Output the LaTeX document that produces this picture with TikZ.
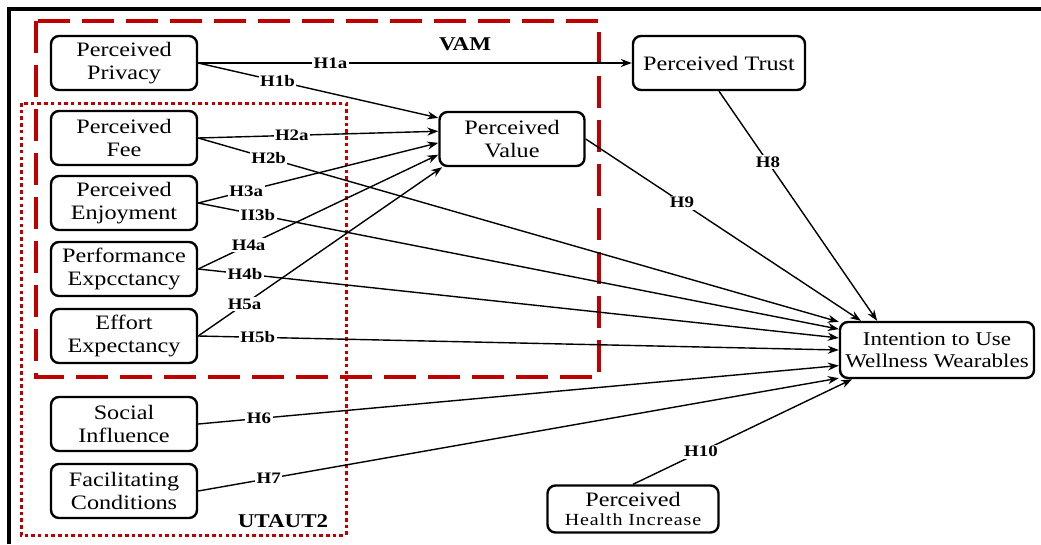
\documentclass[tikz,border=0pt]{standalone}
\usepackage{fontspec}
\setmainfont{Liberation Serif}[FakeStretch=1.18]
\usetikzlibrary{arrows.meta}

\definecolor{vamred}{RGB}{192,0,0}

\tikzset{
  construct/.style={draw, line width=2.4pt, rounded corners=8pt, align=center,
    minimum width=146pt, minimum height=54pt, inner sep=2pt,
    font=\fontsize{20.5}{23.5}\selectfont},
  link/.style={line width=1.4pt, -{Stealth[length=11pt,width=8pt]}},
  hyp/.style={fill=white, inner sep=1.5pt, font=\bfseries\fontsize{16}{18}\selectfont},
  modelname/.style={font=\bfseries\fontsize{19.5}{21}\selectfont},
}

\begin{document}
\begin{tikzpicture}[x=1pt, y=-1pt]
\useasboundingbox (0,0) rectangle (1041,544);
% frame
\draw[line width=4pt] (9,544) -- (9,9) -- (1041,9);
% model boundaries
\draw[vamred, line width=3.5pt, dash pattern=on 32pt off 12pt] (36,21) rectangle (599,377);
\draw[vamred, line width=3pt, dash pattern=on 3.5pt off 3.2pt] (21,103) rectangle (346,535);
\node[modelname] (vamlbl) at (465,44) {VAM};
\node[modelname] (utautlbl) at (283,521) {UTAUT2};

% constructs
\node[construct] (privacy) at (124,63) {Perceived\\Privacy};
\node[construct] (fee) at (124,138) {Perceived\\Fee};
\node[construct] (enjoy) at (124,203) {Perceived\\Enjoyment};
\node[construct] (perform) at (124,269) {Performance\\Expcctancy};
\node[construct] (effort) at (124,336) {Effort\\Expectancy};
\node[construct] (social) at (124,424) {Social\\Influence};
\node[construct] (facil) at (124,491) {Facilitating\\Conditions};
\node[construct, minimum width=145pt] (value) at (512,139) {Perceived\\Value};
\node[construct, minimum width=172pt] (trust) at (719,63) {Perceived Trust};
\node[construct, minimum width=194pt, minimum height=56pt,
  font=\fontsize{19.5}{22.5}\selectfont] (intent) at (937,350) {Intention to Use\\Wellness Wearables};
\node[construct, minimum width=171pt, minimum height=47pt, inner sep=1pt] (health) at (633,509)
  {Perceived\\[-4pt]{\fontsize{17}{18}\selectfont\addfontfeature{LetterSpace=5}Health Increase}};

% hypotheses
\draw[link] (privacy.east) -- node[hyp, pos=0.305] {H1a} (trust.west);
\draw[link] (privacy.east) -- node[hyp, pos=0.33] {H1b} (value.164);
\draw[link] (fee.east) -- node[hyp, pos=0.39] {H2a} (value.174);
\draw[link] (fee.east) -- node[hyp, pos=0.11] {H2b} (intent.164);
\draw[link] (enjoy.east) -- node[hyp, pos=0.2] {H3a} (value.183);
\draw[link] (enjoy.east) -- node[hyp, pos=0.093] {II3b} (intent.168);
\draw[link] (perform.east) -- node[hyp, pos=0.21] {H4a} (value.192);
\draw[link] (perform.east) -- node[hyp, pos=0.073] {H4b} (intent.173);
\draw[link] (effort.east) -- node[hyp, pos=0.19] {H5a} (value.202);
\draw[link] (effort.east) -- node[hyp, pos=0.093] {H5b} (intent.180);
\draw[link] (social.east) -- node[hyp, pos=0.095] {H6} (intent.189);
\draw[link] (facil.east) -- node[hyp, pos=0.11] {H7} (intent.196);
\draw[link] (trust.south) -- node[hyp, pos=0.31] {H8} (intent.154);
\draw[link] (value.east) -- node[hyp, pos=0.35] {H9} (intent.159.5);
\draw[link] (health.north) -- node[hyp, pos=0.31] {H10} (intent.199);
\end{tikzpicture}
\end{document}
